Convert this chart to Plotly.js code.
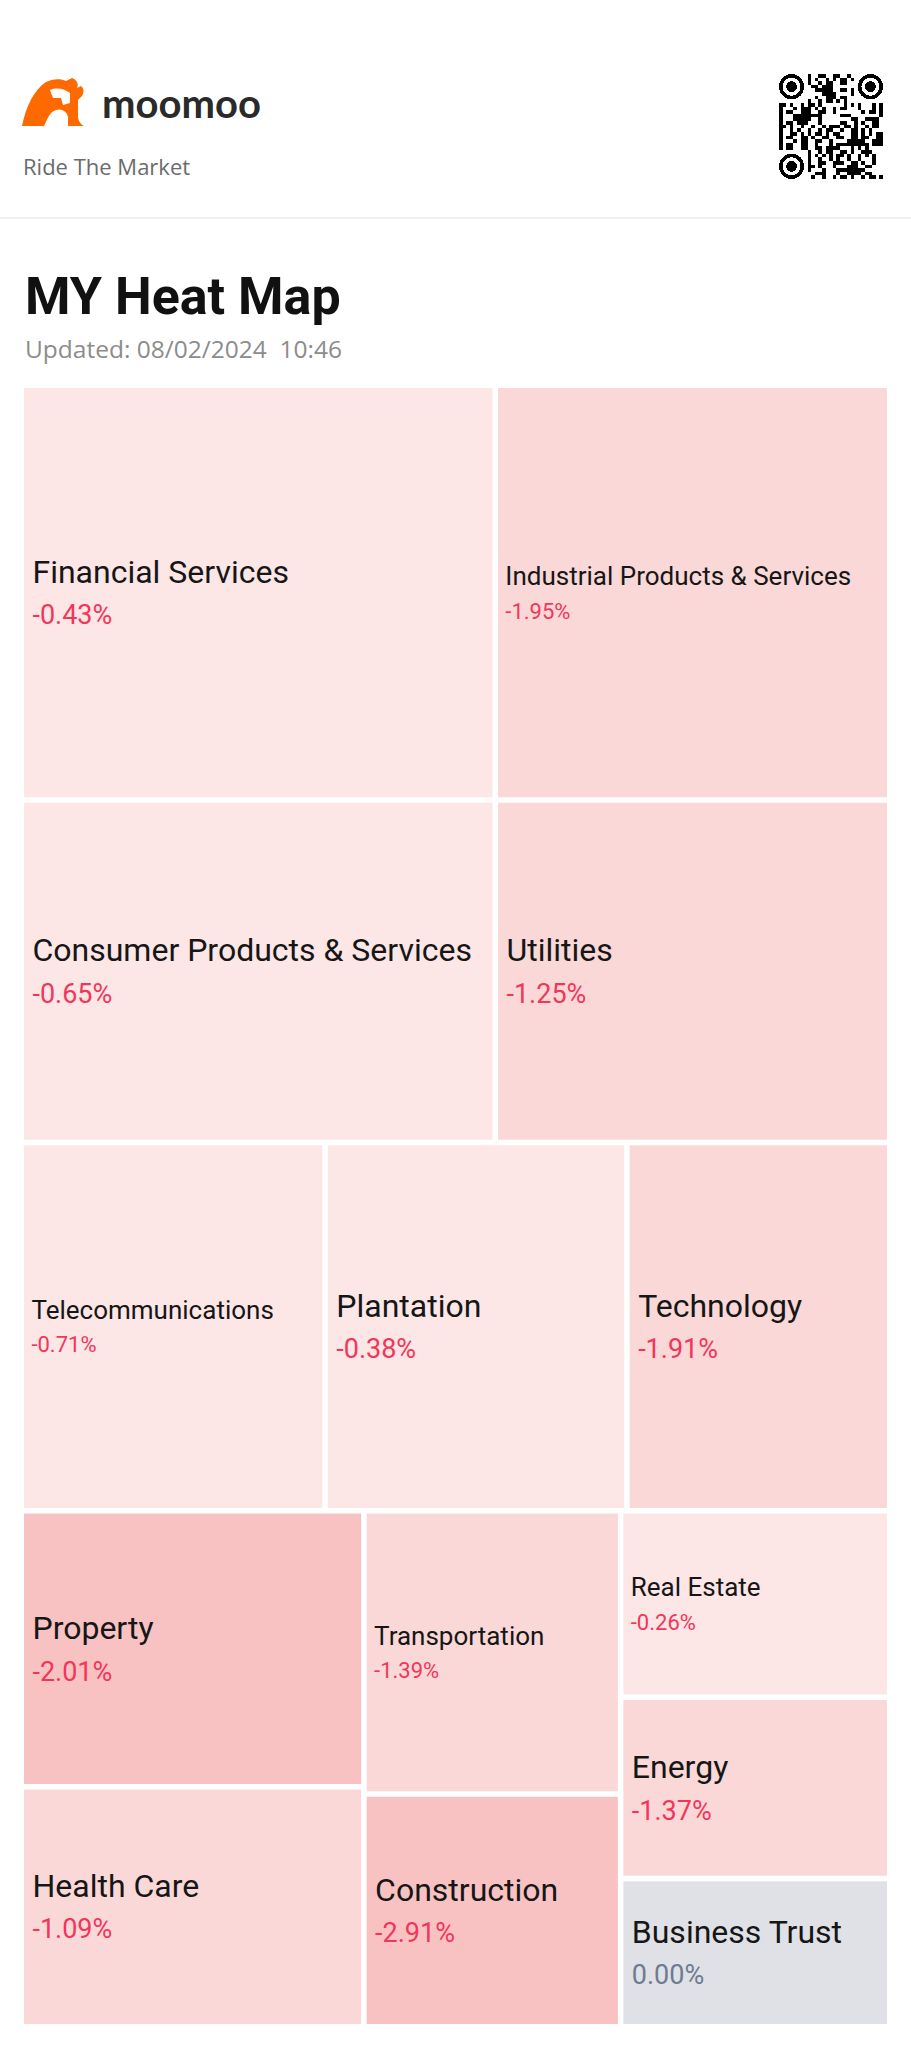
<!DOCTYPE html>
<html><head><meta charset="utf-8">
<script src="https://cdn.plot.ly/plotly-3.0.1.min.js"></script>
<style>html,body{margin:0;padding:0;background:#fff;} #chart{width:911px;height:2048px;}</style>
</head><body><div id="chart"></div>
<script>
// ---- data ----
const sectors = ['Financial Services', 'Industrial Products & Services', 'Consumer Products & Services', 'Utilities',
  'Telecommunications', 'Plantation', 'Technology', 'Property', 'Health Care', 'Transportation',
  'Construction', 'Real Estate', 'Energy', 'Business Trust'];
const weights = [13.79, 11.48, 11.38, 9.47, 7.85, 7.80, 6.79, 6.63, 5.77, 5.10, 4.19, 3.52, 3.42, 2.80];
const changes = [-0.43, -1.95, -0.65, -1.25, -0.71, -0.38, -1.91, -2.01, -1.09, -1.39, -2.91, -0.26, -1.37, 0.00];
const updatedText = 'Updated: 08/02/2024\u00a0\u00a010:46';

// ---- styling rules ----
const compactLabels = ['Industrial Products & Services', 'Telecommunications', 'Transportation', 'Real Estate'];
const W = 911, H = 2048;
function tileColor(c) {
  if (c === 0) return '#dfe1e6';
  const a = Math.abs(c);
  if (a >= 2) return '#f9c2c2';
  if (a >= 1) return '#fad8d7';
  return '#fce6e6';
}
function pctColor(c) { return c === 0 ? '#6e7b91' : (c < 0 ? '#f2365a' : '#12b886'); }
const pctText = changes.map(c => (c > 0 ? '+' : '') + c.toFixed(2) + '%');
const labelSizes = sectors.map(s => compactLabels.includes(s) ? 26 : 32);
const lead = '\u2006';
const templates = sectors.map((s, i) => {
  const ps = compactLabels.includes(s) ? 22 : 27;
  return lead + '%{label}<br>' + lead + '<span style="font-size:' + ps + 'px;fill:' + pctColor(changes[i]) + '">%{customdata}</span>';
});

const trace = {
  type: 'treemap',
  labels: sectors,
  parents: sectors.map(() => ''),
  values: weights,
  customdata: pctText,
  texttemplate: templates,
  textposition: 'middle left',
  textfont: {family: 'Roboto', size: labelSizes, color: '#161616'},
  marker: {colors: changes.map(tileColor), line: {width: 0}, cornerradius: 9, pad: {t: 0, l: 0, r: 0, b: 0}},
  tiling: {packing: 'squarify', squarifyratio: 1, pad: 5.5},
  pathbar: {visible: false},
  sort: true,
  hoverinfo: 'skip',
  domain: {x: [24 / W, 887 / W], y: [1 - 2024 / H, 1 - 388 / H]}
};

// ---- decorative header graphics ----
const logoSvg = '<svg xmlns="http://www.w3.org/2000/svg" viewBox="0 0 66 48">' +
  '<path fill="#ff6a00" d="M0 48 C4 28 12 12 24 4 C30 1 38 0 44 3 L50 0 C55 2 57 6 55 10 L59 8 C63 11 62 17 58 20 L56 22 L56 38 C56 42 58 46 62 48 L46 48 L46 40 C46 34 40 30 34 32 L30 34 C26 38 24 44 22 48 Z"/>' +
  '<path fill="#ffffff" d="M28 12 C35 9 43 11 48 15 L48 25 L41 27 L39 20 L31 20 Z"/>' +
  '</svg>';
let qr = '<svg xmlns="http://www.w3.org/2000/svg" viewBox="0 0 29 29" shape-rendering="crispEdges"><rect width="29" height="29" fill="#fff"/>';
function inFinder(i, j) { return (i < 8 && j < 8) || (i > 20 && j < 8) || (i < 8 && j > 20); }
for (let i = 0; i < 29; i++) for (let j = 0; j < 29; j++) {
  if (inFinder(i, j)) continue;
  const h = (i * 31 + j * 17 + (i * j) % 7 + ((i ^ j) * 5)) % 11;
  if (h < 5) qr += '<rect x="' + i + '" y="' + j + '" width="1" height="1" fill="#000"/>';
}
[[3.5, 3.5], [25.5, 3.5], [3.5, 25.5]].forEach(p => {
  qr += '<circle cx="' + p[0] + '" cy="' + p[1] + '" r="3" fill="none" stroke="#000" stroke-width="1"/>' +
        '<circle cx="' + p[0] + '" cy="' + p[1] + '" r="1.5" fill="#000"/>';
});
qr += '</svg>';
const uri = s => 'data:image/svg+xml;charset=utf-8,' + encodeURIComponent(s);

const layout = {
  width: W, height: H,
  margin: {l: 0, r: 0, t: 0, b: 0},
  paper_bgcolor: '#ffffff',
  showlegend: false,
  images: [
    {source: uri(logoSvg), xref: 'paper', yref: 'paper', x: 22 / W, y: 1 - 78 / H, sizex: 66 / W, sizey: 48 / H,
     xanchor: 'left', yanchor: 'top', sizing: 'stretch', layer: 'above'},
    {source: uri(qr), xref: 'paper', yref: 'paper', x: 779 / W, y: 1 - 74 / H, sizex: 104 / W, sizey: 105 / H,
     xanchor: 'left', yanchor: 'top', sizing: 'stretch', layer: 'above'}
  ],
  shapes: [
    {type: 'line', xref: 'paper', yref: 'paper', x0: 0, x1: 1, y0: 1 - 218 / H, y1: 1 - 218 / H,
     line: {color: '#ececec', width: 1.5}}
  ],
  annotations: [
    {text: '<b>moomoo</b>', x: 100 / W, y: 1 - 103 / H, xref: 'paper', yref: 'paper', xanchor: 'left', yanchor: 'middle',
     showarrow: false, font: {family: 'Lato', size: 40, color: '#2a2a2a'}},
    {text: 'Ride The Market', x: 21 / W, y: 1 - 166 / H, xref: 'paper', yref: 'paper', xanchor: 'left', yanchor: 'middle',
     showarrow: false, font: {family: 'Open Sans', size: 22, color: '#6b6b6b'}},
    {text: '<b>MY Heat Map</b>', x: 23 / W, y: 1 - 296 / H, xref: 'paper', yref: 'paper', xanchor: 'left', yanchor: 'middle',
     showarrow: false, font: {family: 'Roboto', size: 52, color: '#111111'}},
    {text: updatedText, x: 23 / W, y: 1 - 348 / H, xref: 'paper', yref: 'paper', xanchor: 'left', yanchor: 'middle',
     showarrow: false, font: {family: 'Open Sans', size: 24.5, color: '#8c8c8c'}}
  ]
};

Plotly.newPlot('chart', [trace], layout, {displayModeBar: false, staticPlot: true});
</script>
</body></html>
